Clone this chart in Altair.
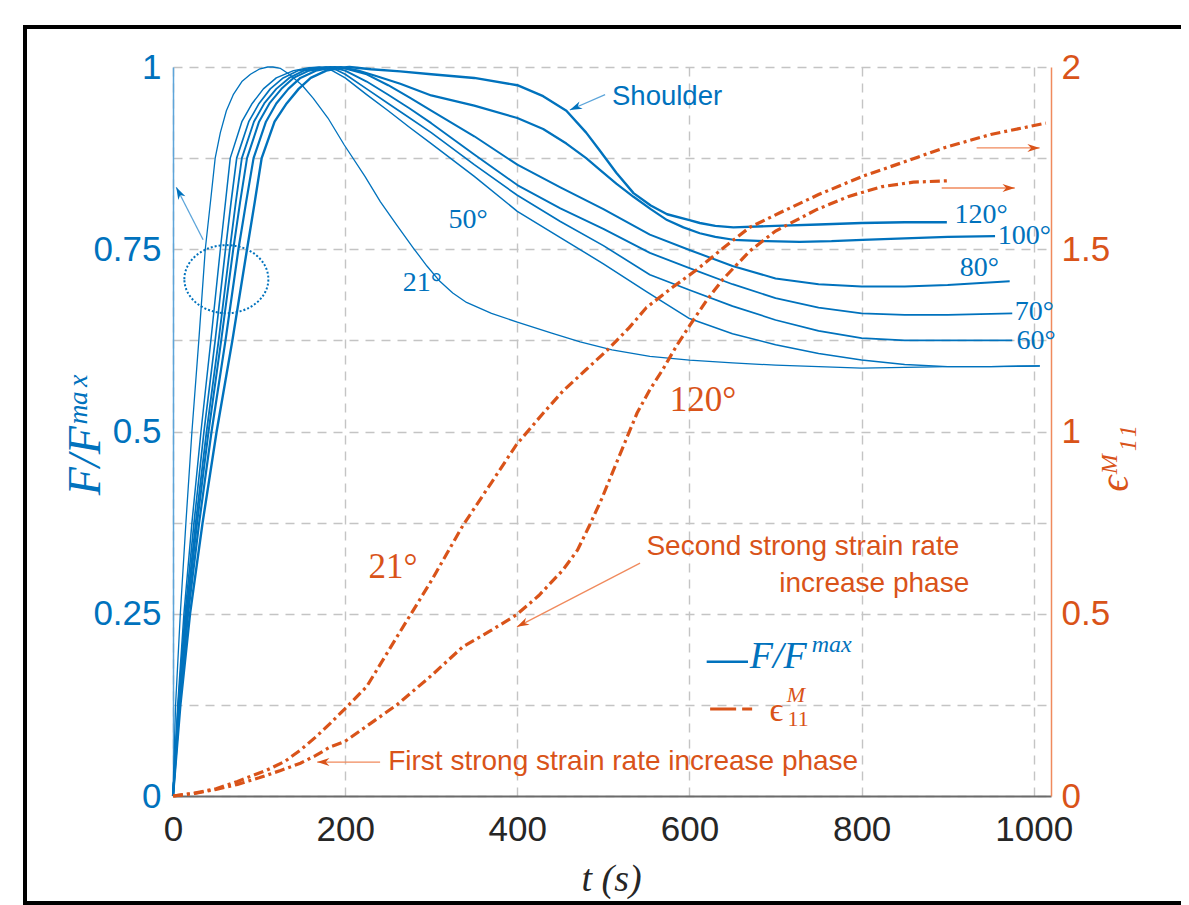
import math
import altair as alt
import pandas as pd

BLUE = "#0072BD"
ORANGE = "#D95319"
BLUE_LIGHT = "#5DA5DA"
ORANGE_LIGHT = "#F08A5D"

# ---------------- data: F/Fmax curves ----------------
angles = ["21", "50", "60", "70", "80", "100", "120"]
line_widths = [1.3, 2.4, 2.4, 2.4, 2.4, 3.0, 4.5]

t_21 = [0, 3, 8.5, 15, 22, 30, 37.5, 44, 49, 55, 62, 70, 80, 90, 100, 110, 116, 125, 135, 150, 163, 180, 199, 223, 241, 260, 279, 295, 310, 325, 341, 370, 400, 440, 473, 510, 554, 600, 650, 700, 750, 800, 850, 900, 950, 1007]
F_21 = [0, 0.125, 0.25, 0.375, 0.5, 0.625, 0.75, 0.82, 0.875, 0.91, 0.94, 0.962, 0.98, 0.99, 0.997, 1.0, 1.0, 0.998, 0.99, 0.975, 0.957, 0.93, 0.893, 0.85, 0.815, 0.783, 0.752, 0.727, 0.706, 0.69, 0.677, 0.662, 0.65, 0.635, 0.623, 0.612, 0.603, 0.598, 0.594, 0.591, 0.589, 0.587, 0.588, 0.589, 0.589, 0.59]

t_50 = [0, 5.5, 12.7, 22, 32.5, 44, 55, 61, 66.5, 80, 92, 105, 120, 140, 158, 170, 185, 200, 225, 250, 275, 300, 350, 400, 450, 500, 550, 600, 650, 700, 750, 800, 850, 900, 950, 1007]
F_50 = [0, 0.125, 0.25, 0.375, 0.5, 0.625, 0.75, 0.815, 0.875, 0.925, 0.95, 0.97, 0.985, 0.995, 0.999, 1.0, 0.995, 0.985, 0.962, 0.94, 0.917, 0.895, 0.85, 0.802, 0.766, 0.73, 0.692, 0.655, 0.634, 0.619, 0.607, 0.598, 0.592, 0.589, 0.589, 0.59]

t_60 = [0, 6.1, 14, 24.4, 36, 49, 61, 67.5, 74, 88, 100, 113, 128, 145, 165, 178, 190, 200, 225, 250, 275, 300, 350, 400, 450, 500, 554, 600, 650, 700, 750, 800, 850, 900, 975]
F_60 = [0, 0.125, 0.25, 0.375, 0.5, 0.625, 0.75, 0.815, 0.875, 0.925, 0.95, 0.97, 0.985, 0.995, 0.999, 1.0, 0.996, 0.99, 0.97, 0.95, 0.93, 0.91, 0.866, 0.824, 0.788, 0.755, 0.715, 0.694, 0.672, 0.653, 0.638, 0.628, 0.625, 0.625, 0.625]

t_70 = [0, 6.6, 15.2, 26.4, 39, 53, 66, 73, 80, 94, 106, 120, 135, 152, 172, 183, 200, 225, 250, 275, 300, 350, 400, 450, 500, 554, 600, 650, 700, 750, 800, 850, 900, 975]
F_70 = [0, 0.125, 0.25, 0.375, 0.5, 0.625, 0.75, 0.815, 0.875, 0.925, 0.95, 0.97, 0.985, 0.995, 0.999, 1.0, 0.995, 0.98, 0.962, 0.943, 0.923, 0.88, 0.838, 0.806, 0.778, 0.745, 0.724, 0.702, 0.683, 0.67, 0.662, 0.66, 0.66, 0.662]

t_80 = [0, 7, 16.1, 28, 41.3, 56, 70, 78, 86, 100, 112, 126, 140, 158, 177, 188, 200, 225, 250, 275, 300, 350, 400, 450, 500, 554, 600, 650, 700, 750, 800, 850, 900, 972]
F_80 = [0, 0.125, 0.25, 0.375, 0.5, 0.625, 0.75, 0.815, 0.875, 0.925, 0.95, 0.97, 0.985, 0.995, 0.999, 1.0, 0.998, 0.99, 0.975, 0.958, 0.94, 0.905, 0.866, 0.835, 0.805, 0.77, 0.749, 0.727, 0.71, 0.702, 0.699, 0.699, 0.701, 0.706]

t_100 = [0, 7.6, 17.5, 30.4, 44.8, 61, 76, 85, 93.6, 108, 120, 134, 148, 166, 184, 195, 215, 235, 264, 300, 350, 400, 430, 457, 480, 496, 515, 535, 555, 574, 593, 612, 630, 651, 690, 728, 765, 801, 850, 900, 955]
F_100 = [0, 0.125, 0.25, 0.375, 0.5, 0.625, 0.75, 0.815, 0.875, 0.925, 0.95, 0.97, 0.985, 0.995, 0.999, 1.0, 0.995, 0.988, 0.977, 0.961, 0.947, 0.93, 0.915, 0.895, 0.875, 0.859, 0.84, 0.822, 0.805, 0.79, 0.78, 0.772, 0.767, 0.763, 0.761, 0.76, 0.761, 0.763, 0.765, 0.767, 0.768]

t_120 = [0, 8.6, 19.8, 34.4, 50.7, 69, 86, 95, 103, 118, 132, 146, 160, 178, 195, 205, 230, 264, 300, 350, 400, 430, 457, 480, 496, 515, 535, 555, 574, 600, 612, 630, 651, 700, 750, 800, 850, 899]
F_120 = [0, 0.125, 0.25, 0.375, 0.5, 0.625, 0.75, 0.815, 0.875, 0.925, 0.95, 0.97, 0.985, 0.995, 0.999, 1.0, 0.997, 0.994, 0.99, 0.985, 0.975, 0.96, 0.94, 0.91, 0.885, 0.855, 0.827, 0.81, 0.798, 0.79, 0.786, 0.782, 0.78, 0.782, 0.784, 0.786, 0.787, 0.787]

# ---------------- data: strain curves ----------------
strain_angles = ["21", "120"]
t_e21 = [0, 25, 50, 75, 109, 130, 148, 165, 183, 200, 225, 260, 300, 337, 370, 399, 430, 453, 480, 504, 530, 550, 580, 608, 640, 670, 705, 750, 801, 850, 898, 950, 1014]
e_21 = [0, 0.008, 0.02, 0.04, 0.071, 0.095, 0.126, 0.16, 0.2, 0.24, 0.30, 0.436, 0.59, 0.743, 0.86, 0.964, 1.05, 1.111, 1.17, 1.222, 1.285, 1.34, 1.395, 1.443, 1.505, 1.56, 1.60, 1.65, 1.70, 1.74, 1.78, 1.815, 1.846]
t_e120 = [0, 25, 50, 75, 100, 125, 148, 165, 183, 200, 230, 260, 300, 337, 370, 399, 425, 453, 470, 484, 498, 511, 525, 539, 554, 569, 585, 600, 620, 639, 670, 700, 747, 785, 824, 860, 902]
e_120 = [0, 0.007, 0.018, 0.032, 0.05, 0.07, 0.09, 0.11, 0.135, 0.15, 0.2, 0.25, 0.33, 0.41, 0.455, 0.497, 0.55, 0.62, 0.675, 0.743, 0.815, 0.89, 0.97, 1.05, 1.115, 1.17, 1.235, 1.29, 1.36, 1.418, 1.495, 1.55, 1.608, 1.645, 1.672, 1.684, 1.688]

# ---------------- axes ticks ----------------
x_ticks = [0, 200, 400, 600, 800, 1000]
x_tick_labels = ["0", "200", "400", "600", "800", "1000"]
f_grid = [0, 0.125, 0.25, 0.375, 0.5, 0.625, 0.75, 0.875, 1]
f_tick_values = [0, 0.25, 0.5, 0.75, 1]
f_tick_labels = ["0", "0.25", "0.5", "0.75", "1"]
e_tick_values = [0, 0.5, 1, 1.5, 2]
e_tick_labels = ["0", "0.5", "1", "1.5", "2"]

# ---------------- annotations ----------------
blue_lbl_text = ["120°", "100°", "80°", "70°", "60°", "50°", "21°"]
blue_lbl_t = [908, 958, 914, 978, 980, 320, 267]
blue_lbl_F = [0.797, 0.768, 0.724, 0.664, 0.624, 0.790, 0.704]

orange_lbl_text = ["21°", "120°"]
orange_lbl_t = [227, 577]
orange_lbl_e = [0.628, 1.086]

note_text = ["Second strong strain rate", "First strong strain rate increase phase"]
note_t = [550, 250]
note_e = [0.683, 0.093]
note2_text = ["increase phase"]
note2_t = [925]
note2_e = [0.582]

shoulder_text = ["Shoulder"]
shoulder_t = [510]
shoulder_F = [0.959]

# arrows: tail -> head
barrow_t1 = [502, 35]
barrow_F1 = [0.962, 0.763]
barrow_t2 = [461, 3.8]
barrow_F2 = [0.941, 0.835]

oarrow_t1 = [542.6, 240.6, 933.6, 893]
oarrow_e1 = [0.639, 0.093, 1.778, 1.668]
oarrow_t2 = [399.6, 167.5, 1006.8, 977.9]
oarrow_e2 = [0.464, 0.093, 1.778, 1.668]

ellipse_t = [62]
ellipse_F = [0.709]

# legend
leg_blue_t1, leg_blue_t2, leg_blue_F = [620], [668], [0.184]
leg_or_t1, leg_or_t2, leg_or_e = [624], [678], [0.239]

# ---------------- geometry ----------------
W, H = 878, 729
T_MAX = 1020
PX_T = W / T_MAX

x_scale = alt.Scale(domain=[0, T_MAX], nice=False, zero=False)
f_scale = alt.Scale(domain=[0, 1], nice=False, zero=False)
e_scale = alt.Scale(domain=[0, 2], nice=False, zero=False)

GRID = dict(grid=True, gridDash=[9, 7], gridColor="#c4c4c4", gridWidth=1.4)

# ---------------- tables ----------------
rows = []
for a, tt, ff in zip(angles, [t_21, t_50, t_60, t_70, t_80, t_100, t_120],
                     [F_21, F_50, F_60, F_70, F_80, F_100, F_120]):
    for i, (t, f) in enumerate(zip(tt, ff)):
        rows.append({"angle": a, "t": t, "F": f, "i": i})
df_f = pd.DataFrame(rows)

rows = []
for a, tt, ee in zip(strain_angles, [t_e21, t_e120], [e_21, e_120]):
    for i, (t, e) in enumerate(zip(tt, ee)):
        rows.append({"angle": a, "t": t, "e": e, "i": i})
df_e = pd.DataFrame(rows)


def make_expr(values, labels):
    return " : ".join(f"datum.value == {v} ? '{l}'" for v, l in zip(values, labels)) + " : ''"


x_axis = alt.Axis(values=x_ticks, labelExpr=make_expr(x_ticks, x_tick_labels),
                  ticks=False, domainColor="#6b6b6b", labelFlush=False, labelOverlap=False,
                  domainWidth=2, labelFont="Liberation Sans", labelFontSize=35,
                  labelColor="#262626", labelPadding=16, title="t (s)",
                  titleFont="Liberation Serif", titleFontStyle="italic",
                  titleFontWeight="normal", titleFontSize=38, titleColor="#262626",
                  titleX=438, titleY=83, titleBaseline="middle", titleAlign="center",
                  orient="bottom", **GRID)

left_axis = alt.Axis(values=f_grid, labelExpr=make_expr(f_tick_values, f_tick_labels), ticks=False,
                     domainColor=BLUE_LIGHT, domainWidth=1.5, orient="left",
                     labelFlush=False, labelOverlap=False,
                     labelFont="Liberation Sans", labelFontSize=35, labelColor=BLUE,
                     labelPadding=12, title="F/Fᵐᵃˣ", titleFont="Liberation Serif",
                     titleFontStyle="italic", titleFontWeight="normal",
                     titleFontSize=46, titleColor=BLUE, titleAngle=270,
                     titleX=-88, titleY=368, titleBaseline="middle",
                     titleAlign="center", **GRID)

right_axis = alt.Axis(orient="right", values=e_tick_values,
                      labelExpr=make_expr(e_tick_values, e_tick_labels), ticks=False,
                      labelFlush=False, labelOverlap=False,
                      grid=False, domainColor=ORANGE_LIGHT, domainWidth=1.5,
                      labelFont="Liberation Sans", labelFontSize=35, labelColor=ORANGE,
                      labelPadding=10, title="ϵᴹ₁₁", titleFont="Liberation Serif",
                      titleFontStyle="italic", titleFontWeight="normal",
                      titleFontSize=40, titleColor=ORANGE, titleAngle=270,
                      titleX=64, titleY=391, titleBaseline="middle",
                      titleAlign="center")

# every layer carries the same x axis spec so the shared axis merges cleanly
XA = dict(scale=x_scale, axis=x_axis)

# ---------------- layers ----------------
blue_lines = alt.Chart(df_f).mark_line(color=BLUE, strokeJoin="round").encode(
    x=alt.X("t:Q", **XA),
    y=alt.Y("F:Q", scale=f_scale, axis=left_axis),
    detail="angle:N",
    order="i:Q",
    strokeWidth=alt.StrokeWidth("angle:N", scale=alt.Scale(domain=angles, range=line_widths), legend=None),
)

orange_lines = alt.Chart(df_e).mark_line(color=ORANGE, strokeWidth=3.2, strokeDash=[10, 4, 3, 4]).encode(
    x=alt.X("t:Q", **XA),
    y=alt.Y("e:Q", scale=e_scale, axis=right_axis),
    detail="angle:N",
    order="i:Q",
)


def text_layer(df, yfield, yscale, color, size, font="Liberation Serif", style="normal", align="left"):
    return alt.Chart(df).mark_text(color=color, font=font, fontSize=size, fontStyle=style,
                                   align=align, baseline="middle").encode(
        x=alt.X("t:Q", **XA), y=alt.Y(f"{yfield}:Q", scale=yscale, axis=None), text="label:N")


HEAD = "M 0 0 L -2 -0.65 L -1.4 0 L -2 0.65 Z"


def arrow_layers(t1, v1, t2, v2, yscale, px_v, color, line_color):
    ang = [math.degrees(math.atan2(-(b2 - b1) * px_v, (a2 - a1) * PX_T)) % 360
           for a1, b1, a2, b2 in zip(t1, v1, t2, v2)]
    df = pd.DataFrame({"t1": t1, "v1": v1, "t2": t2, "v2": v2, "ang": ang})
    rule = alt.Chart(df).mark_rule(color=line_color, strokeWidth=1.3).encode(
        x=alt.X("t1:Q", **XA), x2="t2:Q",
        y=alt.Y("v1:Q", scale=yscale, axis=None), y2="v2:Q")
    head = alt.Chart(df).mark_point(shape=HEAD, filled=True, size=150, color=color, opacity=1).encode(
        x=alt.X("t2:Q", **XA), y=alt.Y("v2:Q", scale=yscale, axis=None),
        angle=alt.Angle("ang:Q", scale=None))
    return [rule, head]


blue_labels = text_layer(pd.DataFrame({"t": blue_lbl_t, "F": blue_lbl_F, "label": blue_lbl_text}),
                         "F", f_scale, BLUE, 28)
shoulder = text_layer(pd.DataFrame({"t": shoulder_t, "F": shoulder_F, "label": shoulder_text}),
                      "F", f_scale, BLUE, 27.5, font="Liberation Sans")

ELLIPSE = "M -1 0 A 1 0.81 0 1 1 1 0 A 1 0.81 0 1 1 -1 0 Z"
ellipse = alt.Chart(pd.DataFrame({"t": ellipse_t, "F": ellipse_F})).mark_point(
    shape=ELLIPSE, filled=False, size=7056, color=BLUE, strokeWidth=2, strokeDash=[2, 2], opacity=1
).encode(x=alt.X("t:Q", **XA), y=alt.Y("F:Q", scale=f_scale, axis=None))

leg_blue = alt.Chart(pd.DataFrame({"t1": leg_blue_t1, "t2": leg_blue_t2, "F": leg_blue_F})).mark_rule(
    color=BLUE, strokeWidth=2.5).encode(x=alt.X("t1:Q", **XA), x2="t2:Q",
                                        y=alt.Y("F:Q", scale=f_scale, axis=None))
leg_blue_txt = text_layer(pd.DataFrame({"t": [670], "F": [0.19], "label": ["F/F"]}),
                          "F", f_scale, BLUE, 38, style="italic")
leg_blue_sup = text_layer(pd.DataFrame({"t": [742], "F": [0.207], "label": ["max"]}),
                          "F", f_scale, BLUE, 24, style="italic")

orange_labels = text_layer(pd.DataFrame({"t": orange_lbl_t, "e": orange_lbl_e, "label": orange_lbl_text}),
                           "e", e_scale, ORANGE, 35)
notes = text_layer(pd.DataFrame({"t": note_t, "e": note_e, "label": note_text}),
                   "e", e_scale, ORANGE, 28, font="Liberation Sans")
notes2 = text_layer(pd.DataFrame({"t": note2_t, "e": note2_e, "label": note2_text}),
                    "e", e_scale, ORANGE, 28, font="Liberation Sans", align="right")
leg_or = alt.Chart(pd.DataFrame({"t1": leg_or_t1, "t2": leg_or_t2, "e": leg_or_e})).mark_rule(
    color=ORANGE, strokeWidth=3, strokeDash=[26, 6, 10, 40]).encode(
    x=alt.X("t1:Q", **XA), x2="t2:Q", y=alt.Y("e:Q", scale=e_scale, axis=None))
leg_or_eps = text_layer(pd.DataFrame({"t": [693], "e": [0.234], "label": ["ϵ"]}),
                        "e", e_scale, ORANGE, 34)
leg_or_sup = text_layer(pd.DataFrame({"t": [713], "e": [0.276], "label": ["M"]}),
                        "e", e_scale, ORANGE, 22, style="italic")
leg_or_sub = text_layer(pd.DataFrame({"t": [714], "e": [0.212], "label": ["11"]}),
                        "e", e_scale, ORANGE, 22)

frame = alt.Chart(pd.DataFrame({"k": [0]})).mark_rect(
    fill="transparent", fillOpacity=0, stroke="black", strokeWidth=4
).encode(x=alt.value(-148), x2=alt.value(1100), y=alt.value(-40), y2=alt.value(836))

layers = [blue_lines, orange_lines, blue_labels, shoulder, ellipse, leg_blue, leg_blue_txt,
          leg_blue_sup, orange_labels, notes, notes2, leg_or, leg_or_eps, leg_or_sup, leg_or_sub]
layers += arrow_layers(barrow_t1, barrow_F1, barrow_t2, barrow_F2, f_scale, H, BLUE, BLUE_LIGHT)
layers += arrow_layers(oarrow_t1, oarrow_e1, oarrow_t2, oarrow_e2, e_scale, H / 2, ORANGE, ORANGE_LIGHT)
layers += [frame]

chart = alt.layer(*layers).resolve_scale(y="independent").properties(
    width=W, height=H,
    autosize=alt.AutoSizeParams(type="none"),
    padding={"left": 165, "top": 59, "right": 130, "bottom": 109},
    background="white",
).configure_view(stroke=None)

chart.save("out.html", embed_options={"renderer": "svg", "actions": False})
